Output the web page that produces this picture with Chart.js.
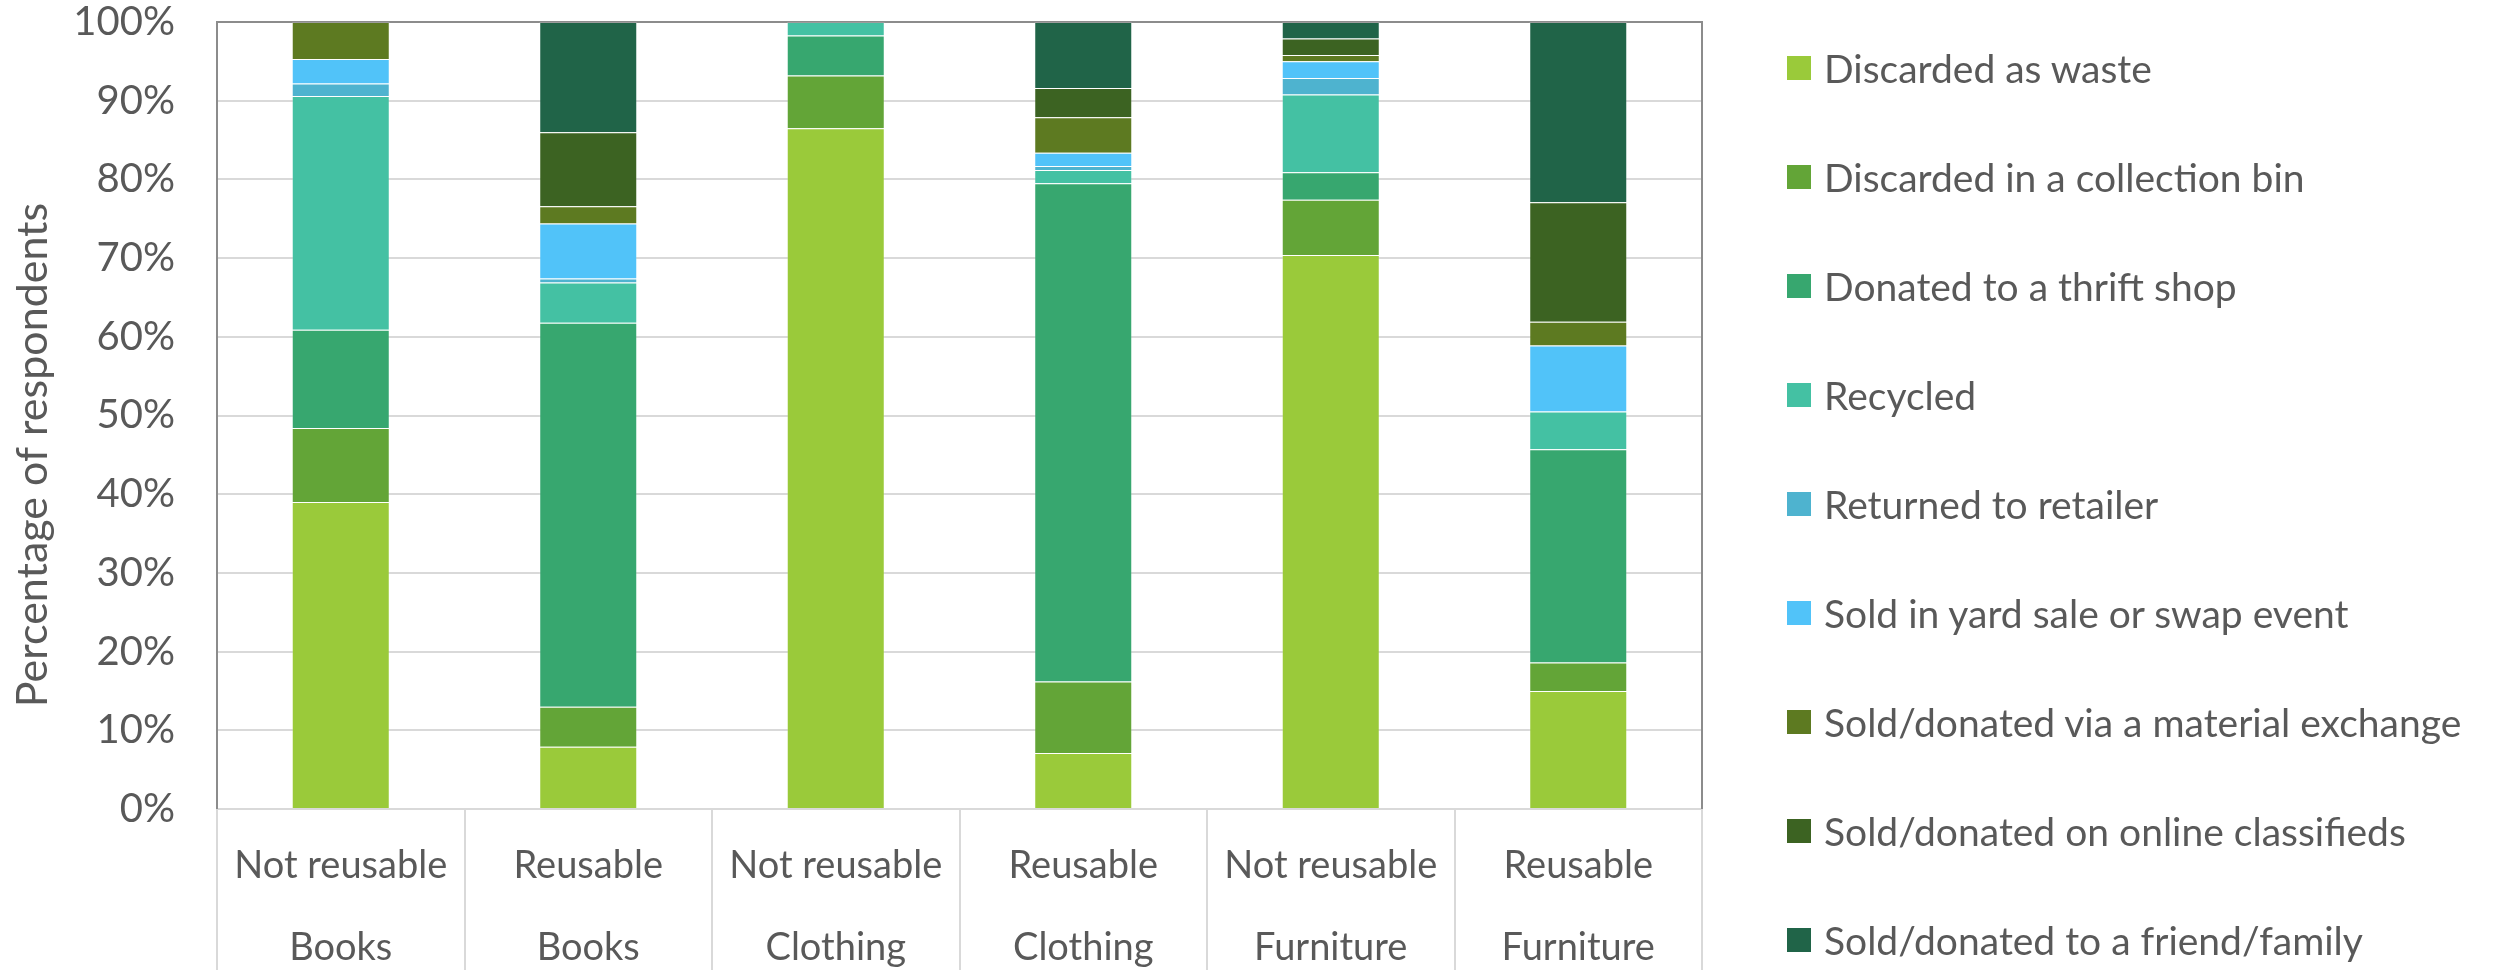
<!DOCTYPE html>
<html>
<head>
<meta charset="utf-8">
<title>Fate of unwanted items</title>
<script src="https://cdn.jsdelivr.net/npm/chart.js@4.4.1/dist/chart.umd.min.js"></script>
<style>
  html, body { margin: 0; padding: 0; background: #ffffff; }
  #wrap { position: relative; width: 2498px; height: 970px; overflow: hidden; }
  #chart { position: absolute; left: 0; top: 0; }
  #legend { position: absolute; left: 1787px; top: 13px; font-family: Lato, sans-serif; font-size: 39px; color: #595959; }
  .row { height: 109px; display: flex; align-items: center; white-space: nowrap; }
  .swatch { width: 24px; height: 24px; margin-right: 13px; flex: none; }
</style>
</head>
<body>
<div id="wrap">
  <canvas id="chart" width="2498" height="970"></canvas>
  <div id="legend"></div>
</div>
<script>
// Item type / reusability categories (two-line axis labels)
const categories = [
  ['Not reusable', 'Books'],
  ['Reusable', 'Books'],
  ['Not reusable', 'Clothing'],
  ['Reusable', 'Clothing'],
  ['Not reusable', 'Furniture'],
  ['Reusable', 'Furniture']
];

const seriesNames = [
  'Discarded as waste',
  'Discarded in a collection bin',
  'Donated to a thrift shop',
  'Recycled',
  'Returned to retailer',
  'Sold in yard sale or swap event',
  'Sold/donated via a material exchange',
  'Sold/donated on online classifieds',
  'Sold/donated to a friend/family'
];

// Percentage of respondents per category
const discardedAsWaste   = [39.0, 7.9, 86.5, 7.1, 70.4, 15.0];
const collectionBin      = [9.4, 5.1, 6.7, 9.1, 7.0, 3.6];
const thriftShop         = [12.5, 48.8, 5.1, 63.3, 3.5, 27.1];
const recycled           = [29.7, 5.1, 1.7, 1.7, 9.9, 4.8];
const returnedToRetailer = [1.6, 0.5, 0, 0.5, 2.1, 0];
const yardSale           = [3.1, 7.0, 0, 1.7, 2.1, 8.4];
const materialExchange   = [4.7, 2.2, 0, 4.5, 0.8, 3.0];
const onlineClassifieds  = [0, 9.4, 0, 3.7, 2.1, 15.2];
const friendFamily       = [0, 14.0, 0, 8.4, 2.1, 22.9];

const yTicks = [0, 10, 20, 30, 40, 50, 60, 70, 80, 90, 100];

const seriesValues = [
  discardedAsWaste, collectionBin, thriftShop, recycled, returnedToRetailer,
  yardSale, materialExchange, onlineClassifieds, friendFamily
];
const seriesColors = [
  '#9aca3a', '#63a537', '#37a76f', '#44c1a3', '#4eb3cf',
  '#51c3f9', '#5d7a21', '#3c6322', '#206448'
];

const TEXT = '#595959';
const GRID = '#d9d9d9';
const FONT = 'Lato, sans-serif';

// Frame around the plot area (top, left, right) and the rotated y-axis title
const plotFrame = {
  id: 'plotFrame',
  beforeDatasetsDraw(chart) {
    const { ctx, chartArea: a } = chart;
    ctx.save();
    ctx.strokeStyle = '#8c8c8c';
    ctx.lineWidth = 2;
    ctx.beginPath();
    ctx.moveTo(a.left, a.bottom);
    ctx.lineTo(a.left, a.top);
    ctx.lineTo(a.right, a.top);
    ctx.lineTo(a.right, a.bottom);
    ctx.stroke();
    ctx.restore();
  },
  afterDraw(chart) {
    const { ctx } = chart;
    ctx.save();
    ctx.translate(47, 455);
    ctx.rotate(-Math.PI / 2);
    ctx.font = '43px ' + FONT;
    ctx.fillStyle = TEXT;
    ctx.textAlign = 'center';
    ctx.textBaseline = 'alphabetic';
    ctx.fillText('Percentage of respondents', 0, 0);
    ctx.restore();
  }
};

function buildLegend() {
  const box = document.getElementById('legend');
  seriesNames.forEach((name, i) => {
    const row = document.createElement('div');
    row.className = 'row';
    const sw = document.createElement('span');
    sw.className = 'swatch';
    sw.style.background = seriesColors[i];
    const label = document.createElement('span');
    label.textContent = name;
    row.appendChild(sw);
    row.appendChild(label);
    box.appendChild(row);
  });
}

function clearPadding(scale) {
  scale.paddingTop = 0;
  scale.paddingBottom = 0;
  scale.paddingLeft = 0;
  scale.paddingRight = 0;
}

function draw() {
  buildLegend();
  new Chart(document.getElementById('chart'), {
    type: 'bar',
    data: {
      labels: categories,
      datasets: seriesNames.map((name, i) => ({
        label: name,
        data: seriesValues[i],
        backgroundColor: seriesColors[i],
        borderColor: 'rgba(255,255,255,0.15)',
        borderWidth: 1,
        categoryPercentage: 1,
        barPercentage: 0.396
      }))
    },
    options: {
      responsive: false,
      devicePixelRatio: 1,
      animation: false,
      layout: { padding: { top: 22, right: 796, bottom: 0, left: 0 } },
      plugins: {
        legend: { display: false },
        tooltip: { enabled: false }
      },
      scales: {
        x: {
          stacked: true,
          offset: true,
          grid: {
            display: true,
            offset: true,
            drawOnChartArea: false,
            drawTicks: true,
            tickLength: 161,
            color: GRID,
            lineWidth: 2
          },
          border: { display: true, color: GRID, width: 2 },
          ticks: {
            color: TEXT,
            font: { family: FONT, size: 38, lineHeight: 82 / 38 },
            padding: -145,
            maxRotation: 0,
            autoSkip: false
          },
          afterFit(scale) { scale.height = 161; clearPadding(scale); }
        },
        y: {
          stacked: true,
          min: 0,
          max: 100,
          afterBuildTicks(scale) { scale.ticks = yTicks.map(v => ({ value: v })); },
          grid: { color: GRID, lineWidth: 2, drawTicks: false },
          border: { display: false },
          ticks: {
            color: TEXT,
            font: { family: FONT, size: 40 },
            padding: 42,
            callback: v => v + '%'
          },
          afterFit(scale) { scale.width = 217; clearPadding(scale); }
        }
      }
    },
    plugins: [plotFrame]
  });
}

if (document.fonts && document.fonts.load) {
  Promise.all([
    document.fonts.load('38px Lato'),
    document.fonts.load('40px Lato'),
    document.fonts.load('43px Lato')
  ]).then(draw, draw);
} else {
  draw();
}
</script>
</body>
</html>
